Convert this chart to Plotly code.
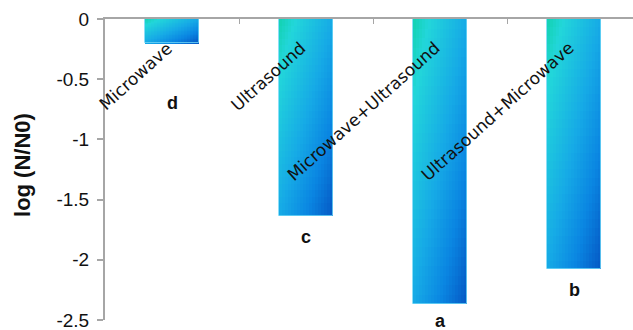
import plotly.graph_objects as go

# Data
categories = ["Microwave", "Ultrasound", "Microwave+Ultrasound", "Ultrasound+Microwave"]
log_reduction = [-0.20, -1.64, -2.37, -2.08]
group_letters = ["d", "c", "a", "b"]
y_tick_vals = [0, -0.5, -1, -1.5, -2, -2.5]
y_tick_text = ["0", "-0.5", "-1", "-1.5", "-2", "-2.5"]

# Styling
BAR_WIDTH = 0.40
NX, NY = 18, 30           # gradient cells per bar (horizontal, vertical)
AXIS_GREY = "#a6a6a6"
GRAD_STOPS = [
    (0.00, (18, 210, 176)),
    (0.15, (34, 214, 218)),
    (0.50, (22, 170, 230)),
    (0.75, (10, 134, 226)),
    (1.00, (5, 88, 196)),
]


def grad_color(t):
    t = min(max(t, 0.0), 1.0)
    for (t0, c0), (t1, c1) in zip(GRAD_STOPS[:-1], GRAD_STOPS[1:]):
        if t <= t1:
            f = (t - t0) / (t1 - t0) if t1 > t0 else 0
            r, g, b = (round(a + (b_ - a) * f) for a, b_ in zip(c0, c1))
            return f"rgb({r},{g},{b})"
    r, g, b = GRAD_STOPS[-1][1]
    return f"rgb({r},{g},{b})"


fig = go.Figure()

# Base bars (solid mid tone) beneath the gradient cells
fig.add_trace(go.Bar(
    x=categories, y=log_reduction, width=BAR_WIDTH,
    marker=dict(color=grad_color(0.5), line=dict(width=0)),
    hoverinfo="skip", showlegend=False,
))

# Diagonal gradient built from bar cells, relative to each bar's own box
cw = BAR_WIDTH / NX
for i in range(NX):
    for j in range(NY):
        u = (i + 0.5) / NX
        v = (j + 0.5) / NY
        t = (u + v) / 2
        last_row = j == NY - 1
        fig.add_trace(go.Bar(
            x=categories,
            y=[val / NY * (1.0 if last_row else 1.15) for val in log_reduction],
            base=[val * j / NY for val in log_reduction],
            width=cw * (1.0 if i == NX - 1 else 1.2),
            offset=-BAR_WIDTH / 2 + i * cw,
            marker=dict(color=grad_color(t), line=dict(width=0)),
            hoverinfo="skip", showlegend=False,
        ))

# Light outline around each bar
fig.add_trace(go.Bar(
    x=categories, y=log_reduction, width=BAR_WIDTH,
    marker=dict(color="rgba(0,0,0,0)", line=dict(width=1, color="rgba(110,214,246,0.8)")),
    hoverinfo="skip", showlegend=False,
))

annotations = []
# Category names, rotated, ending near the top of each bar
for k, name in enumerate(categories):
    annotations.append(dict(
        x=k, y=0, xref="x", yref="y", text=name, showarrow=False,
        textangle=-42, xanchor="right", yanchor="top",
        xshift=7, yshift=-16,
        font=dict(family="DejaVu Sans", size=17, color="#111111"),
    ))

# Significance letters below each bar
letter_shift = [-60, -21, -17, -21]
for k, (letter, val) in enumerate(zip(group_letters, log_reduction)):
    annotations.append(dict(
        x=k, y=val, xref="x", yref="y", text=f"<b>{letter}</b>", showarrow=False,
        xanchor="center", yanchor="middle", yshift=letter_shift[k],
        font=dict(family="Liberation Sans", size=18, color="#111111"),
    ))

# Y-axis title
annotations.append(dict(
    x=0, y=0.515, xref="paper", yref="paper", text="<b>log (N/N0)</b>",
    showarrow=False, textangle=-90, xanchor="center", yanchor="middle",
    xshift=-82,
    font=dict(family="Liberation Sans", size=22, color="#111111"),
))

fig.update_layout(
    width=633, height=330,
    margin=dict(l=105, r=0, t=19, b=10),
    paper_bgcolor="white", plot_bgcolor="white",
    barmode="overlay", bargap=0,
    hovermode=False,
    annotations=annotations,
    xaxis=dict(
        type="category", range=[-0.5, 3.44], side="top",
        showline=True, linecolor=AXIS_GREY, linewidth=2,
        ticks="inside", ticklen=5, tickcolor=AXIS_GREY, tickwidth=1,
        tickson="boundaries", showticklabels=False, showgrid=False,
        zeroline=False, fixedrange=True,
    ),
    yaxis=dict(
        range=[-2.5, 0], tickvals=y_tick_vals, ticktext=y_tick_text,
        showline=True, linecolor=AXIS_GREY, linewidth=2,
        ticks="outside", ticklen=6, tickcolor=AXIS_GREY, tickwidth=2,
        ticklabeloverflow="allow", ticklabelstandoff=4,
        showgrid=False, zeroline=False, fixedrange=True,
        tickfont=dict(family="Liberation Sans", size=19, color="#111111"),
    ),
)

fig.write_html("out.html")
